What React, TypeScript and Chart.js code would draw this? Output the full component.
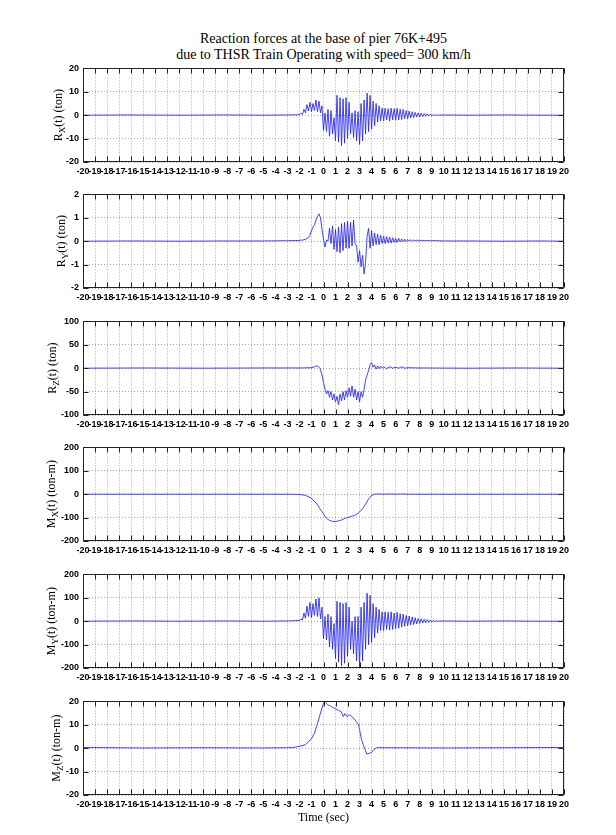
import React, { useEffect, useRef } from "react";
import { Chart, registerables } from "chart.js";
Chart.register(...registerables);

// ---------- DATA ----------
const TITLE_1 = "Reaction forces at the base of pier 76K+495";
const TITLE_2 = "due to THSR Train Operating with speed= 300 km/h";
const X_LABEL = "Time (sec)";

// time samples of the oscillating part (s)
const BURST_T = [
  -2, -1.875, -1.75, -1.625, -1.5, -1.375, -1.25, -1.125,
  -1, -0.875, -0.75, -0.625, -0.5, -0.375, -0.25, -0.125,
  0, 0.125, 0.25, 0.375, 0.5, 0.625, 0.75, 0.875,
  1, 1.125, 1.25, 1.375, 1.5, 1.625, 1.75, 1.875,
  2, 2.125, 2.25, 2.375, 2.5, 2.625, 2.75, 2.875,
  3, 3.125, 3.25, 3.375, 3.5, 3.625, 3.75, 3.875,
  4, 4.125, 4.25, 4.375, 4.5, 4.625, 4.75, 4.875,
  5, 5.125, 5.25, 5.375, 5.5, 5.625, 5.75, 5.875,
  6, 6.125, 6.25, 6.375, 6.5, 6.625, 6.75, 6.875,
  7, 7.125, 7.25, 7.375, 7.5, 7.625, 7.75, 7.875,
  8, 8.125, 8.25, 8.375, 8.5, 8.625, 8.75, 8.875,
  9, 9.125, 9.25, 9.375, 9.5,
];
const PRE_T = [-20, -16, -12, -8, -5, -3];
const POST_T = [10, 12, 15, 18, 20];

const RX_PRE = [0, 0.1, 0, 0.1, 0, 0.1];
const RX_BURST = [
  0.2, 0.8, 0.3, 2.5, 1.0, 4.5, 1.8, 5.5,
  1.5, 5.0, 2.0, 6.5, 1.5, 6.0, 1.0, 4.0,
  -6.5, 1.0, -7.0, 2.5, -9.0, 2.0, -8.0, -1.0,
  -11.0, 8.5, -11.5, 7.5, -13.0, 7.0, -12.0, 7.5,
  -10.0, 5.5, -8.0, 1.0, -9.5, 2.0, -11.0, 1.5,
  -12.5, 5.0, -11.0, 6.5, -8.0, 9.5, -7.0, 8.5,
  -6.0, 6.0, -4.5, 5.0, -3.0, 4.0, -2.5, 3.0,
  -2.5, 3.0, -2.0, 2.8, -2.5, 3.0, -2.0, 2.8,
  -2.2, 3.0, -2.0, 2.5, -1.8, 2.5, -1.5, 2.0,
  -1.5, 1.8, -1.2, 1.5, -1.0, 1.2, -0.8, 1.0,
  -0.8, 0.8, -0.6, 0.7, -0.5, 0.6, -0.4, 0.5,
  -0.3, 0.3, -0.2, 0.2, 0.0,
];
const RX_POST = [0.1, 0, 0.1, 0, 0];

const RY_PRE = [0, 0.01, 0, 0.01, 0.01, 0.02];
const RY_BURST = [
  0.03, 0.05, 0.04, 0.07, 0.08, 0.12, 0.15, 0.25,
  0.45, 0.6, 0.7, 0.9, 1.05, 1.17, 1.0, 0.5,
  0.1, -0.25, 0.05, 0.0, 0.55, -0.1, 0.65, -0.35,
  0.5, -0.45, 0.6, -0.5, 0.75, -0.4, 0.8, -0.3,
  0.85, -0.3, 0.8, -0.2, 0.9, -0.1, -0.2, -0.9,
  -0.4, -1.1, -0.6, -1.4, -0.9, 0.2, 0.55, -0.3,
  0.45, -0.2, 0.35, -0.15, 0.3, -0.15, 0.25, -0.1,
  0.22, -0.1, 0.2, -0.08, 0.18, -0.08, 0.15, -0.05,
  0.12, -0.05, 0.12, -0.03, 0.1, -0.02, 0.08, -0.02,
  0.07, 0.0, 0.06, 0.0, 0.05, 0.01, 0.05, 0.01,
  0.04, 0.02, 0.04, 0.02, 0.03, 0.02, 0.03, 0.02,
  0.03, 0.02, 0.03, 0.02, 0.02,
];
const RY_POST = [0.01, 0.01, 0, 0.01, 0];

const RZ_T = [
  -20, -15, -10, -5, -2, -1, -0.75, -0.6, -0.45, -0.3, -0.15,
  0, 0.125, 0.25, 0.375, 0.5, 0.625, 0.75, 0.875,
  1, 1.125, 1.25, 1.375, 1.5, 1.625, 1.75, 1.875,
  2, 2.125, 2.25, 2.375, 2.5, 2.625, 2.75, 2.875,
  3, 3.125, 3.25, 3.375, 3.5, 3.625, 3.75, 3.875,
  4, 4.125, 4.25, 4.375, 4.5, 4.625, 4.75, 4.875,
  5, 5.25, 5.5, 5.75, 6, 6.25, 6.5, 6.75, 7, 8, 12, 16, 20,
];
const RZ_V = [
  0, 0.5, 0, 0.5, 0.5, 1, 3, 5, 4, 0, -12,
  -30, -45, -55, -48, -62, -50, -68, -55,
  -72, -60, -78, -55, -70, -50, -68, -48,
  -62, -42, -60, -38, -62, -45, -68, -50,
  -72, -50, -62, -45, -25, -15, -5, 8,
  12, 2, 7, -2, 5, -1, 4, 0,
  3, -1, 3, 0, 2, 0, 3, 0, 1, 0.5, 0, 0.5, 0,
];

const MX_T = [
  -20, -10, -3, -2, -1.5, -1, -0.5, -0.25, 0, 0.25, 0.5, 0.75,
  1, 1.25, 1.5, 1.75, 2, 2.25, 2.5, 2.75, 3, 3.25, 3.5, 3.75,
  4, 4.25, 4.5, 5, 5.5, 6, 6.5, 7, 20,
];
const MX_V = [
  0, 0, 0, -1, -5, -17, -45, -66, -85, -103, -112, -116,
  -117, -114, -110, -104, -100, -96, -92, -86, -76, -62, -42, -20,
  -5, 0, 1, 0, 1, 0, 1, 0, 0,
];

const MY_PRE = [0, 1, 0, 1, 0, 1];
const MY_BURST = [
  3, 10, 5, 35, 12, 65, 20, 80,
  15, 75, 25, 95, 20, 100, 10, 60,
  -75, 20, -80, 30, -110, 20, -120, -10,
  -160, 85, -175, 80, -190, 75, -180, 80,
  -150, 60, -120, 0, -140, 20, -170, 20,
  -195, 60, -170, 80, -120, 120, -100, 110,
  -90, 75, -70, 60, -50, 50, -40, 40,
  -40, 40, -35, 38, -38, 40, -35, 35,
  -32, 38, -30, 32, -25, 30, -22, 25,
  -20, 22, -16, 18, -14, 15, -12, 12,
  -10, 10, -8, 8, -7, 7, -5, 5,
  -4, 3, -2, 2, 0,
];
const MY_POST = [1, 0, 1, 0, 0];

const MZ_T = [
  -20, -15, -10, -5, -3, -2.5, -2, -1.5, -1, -0.75, -0.5, -0.25,
  0, 0.15, 0.3, 0.5, 0.75, 1, 1.25, 1.5, 1.65, 1.8, 1.95, 2.1,
  2.3, 2.5, 2.7, 2.9, 3, 3.15, 3.3, 3.45, 3.6, 3.8, 4, 4.2, 4.4,
  5, 10, 15, 20,
];
const MZ_V = [
  0.3, 0.1, 0.2, 0.1, 0.2, 0.3, 0.8, 1.5, 4, 6.5, 10.5, 15,
  19.3, 19.5, 18.8, 18.2, 17.5, 16.8, 16.2, 15.4, 13.5, 14.8, 13.5, 14.2,
  13.8, 12.8, 11.5, 10.3, 8, 4, 1.5, -0.5, -2.5, -2.2, -1.8, -0.5, 0.2,
  0.2, 0.1, 0.2, 0.3,
];

const RX_T = [...PRE_T, ...BURST_T, ...POST_T];
const RX_V = [...RX_PRE, ...RX_BURST, ...RX_POST];
const RY_T = [...PRE_T, ...BURST_T, ...POST_T];
const RY_V = [...RY_PRE, ...RY_BURST, ...RY_POST];
const MY_T = [...PRE_T, ...BURST_T, ...POST_T];
const MY_V = [...MY_PRE, ...MY_BURST, ...MY_POST];

// ---------- LAYOUT ----------
const PAD_TOP = 8;
const PLOT_H = 95;
const XAXIS_H = 22;
const AXIS_LEFT = 83;
const RIGHT_PAD = 52;

type Panel = {
  t: number[]; v: number[]; min: number; max: number; step: number;
  main: string; sub: string; rest: string; top: number; labelX: number;
};

const PANELS: Panel[] = [
  { t: RX_T, v: RX_V, min: -20, max: 20, step: 10, main: "R", sub: "X", rest: "(t) (ton)", top: 67, labelX: 59 },
  { t: RY_T, v: RY_V, min: -2, max: 2, step: 1, main: "R", sub: "Y", rest: "(t) (ton)", top: 193, labelX: 62 },
  { t: RZ_T, v: RZ_V, min: -100, max: 100, step: 50, main: "R", sub: "Z", rest: "(t) (ton)", top: 320, labelX: 53 },
  { t: MX_T, v: MX_V, min: -200, max: 200, step: 100, main: "M", sub: "X", rest: "(t) (ton-m)", top: 446, labelX: 52 },
  { t: MY_T, v: MY_V, min: -200, max: 200, step: 100, main: "M", sub: "Y", rest: "(t) (ton-m)", top: 573, labelX: 52 },
  { t: MZ_T, v: MZ_V, min: -20, max: 20, step: 10, main: "M", sub: "Z", rest: "(t) (ton-m)", top: 700, labelX: 57 },
];

const TICK_FONT = { family: "'Liberation Sans', Arial, sans-serif", size: 9, weight: "bold" as const };
const GRID_COLOR = "rgba(150,150,150,0.85)";

const framePlugin = {
  id: "frame",
  afterDraw(chart: any, _args: any, opts: any) {
    const { ctx, chartArea } = chart;
    const { left, right, top, bottom } = chartArea;
    const xs = chart.scales.x;
    const ys = chart.scales.y;
    ctx.save();
    ctx.strokeStyle = "#222";
    ctx.lineWidth = 1;
    ctx.beginPath();
    const L = Math.round(left) + 0.5, R = Math.round(right) - 0.5;
    const T = Math.round(top) + 0.5, B = Math.round(bottom) - 0.5;
    ctx.rect(L, T, R - L, B - T);
    const tl = 5;
    xs.ticks.forEach((tk: any) => {
      const px = Math.round(xs.getPixelForValue(tk.value)) + 0.5;
      ctx.moveTo(px, T); ctx.lineTo(px, T + tl);
      ctx.moveTo(px, B); ctx.lineTo(px, B - tl);
    });
    ys.ticks.forEach((tk: any) => {
      const py = Math.round(ys.getPixelForValue(tk.value)) + 0.5;
      ctx.moveTo(L, py); ctx.lineTo(L + tl, py);
      ctx.moveTo(R, py); ctx.lineTo(R - tl, py);
    });
    ctx.stroke();

    // y label with subscript
    const cy = (top + bottom) / 2;
    ctx.translate(opts.labelX, cy);
    ctx.rotate(-Math.PI / 2);
    ctx.fillStyle = "#000";
    ctx.textBaseline = "middle";
    ctx.textAlign = "left";
    const big = "12px 'Liberation Serif', 'Times New Roman', serif";
    const small = "9px 'Liberation Serif', 'Times New Roman', serif";
    ctx.font = big;
    const w1 = ctx.measureText(opts.main).width;
    const w3 = ctx.measureText(opts.rest).width;
    ctx.font = small;
    const w2 = ctx.measureText(opts.sub).width;
    let x = -(w1 + w2 + w3) / 2;
    ctx.font = big;
    ctx.fillText(opts.main, x, 0);
    x += w1;
    ctx.font = small;
    ctx.fillText(opts.sub, x, 3.5);
    x += w2;
    ctx.font = big;
    ctx.fillText(opts.rest, x, 0);
    ctx.restore();
  },
};

function PanelChart({ p }: { p: Panel }) {
  const ref = useRef<HTMLCanvasElement>(null);
  useEffect(() => {
    if (!ref.current) return;
    const chart = new Chart(ref.current, {
      type: "line",
      data: {
        datasets: [
          {
            data: p.t.map((x, i) => ({ x, y: p.v[i] })),
            borderColor: "rgb(35,35,235)",
            borderWidth: 0.85,
            pointRadius: 0,
            tension: 0,
            fill: false,
          },
        ],
      },
      options: {
        animation: false,
        responsive: false,
        maintainAspectRatio: false,
        devicePixelRatio: 1,
        layout: { padding: { top: PAD_TOP, right: RIGHT_PAD, left: 0, bottom: 0 } },
        plugins: {
          legend: { display: false },
          tooltip: { enabled: false },
          frame: { main: p.main, sub: p.sub, rest: p.rest, labelX: p.labelX },
        } as any,
        scales: {
          x: {
            type: "linear",
            min: -20,
            max: 20,
            afterFit: (s: any) => { s.height = XAXIS_H; },
            ticks: {
              stepSize: 1,
              autoSkip: false,
              maxRotation: 0,
              minRotation: 0,
              maxTicksLimit: 100,
              padding: 4,
              color: "#000",
              font: TICK_FONT,
            },
            grid: { color: GRID_COLOR, drawTicks: false, lineWidth: 1 },
            border: { display: false, dash: [1, 2] },
          },
          y: {
            type: "linear",
            min: p.min,
            max: p.max,
            afterFit: (s: any) => { s.width = AXIS_LEFT; },
            ticks: {
              stepSize: p.step,
              padding: 4,
              color: "#000",
              font: TICK_FONT,
            },
            grid: { color: GRID_COLOR, drawTicks: false, lineWidth: 1 },
            border: { display: false, dash: [1, 2] },
          },
        },
      },
      plugins: [framePlugin],
    } as any);
    return () => chart.destroy();
  }, [p]);
  const h = PAD_TOP + PLOT_H + XAXIS_H;
  return (
    <canvas
      ref={ref}
      width={616}
      height={h}
      style={{ position: "absolute", left: 0, top: p.top - PAD_TOP, width: 616, height: h }}
    />
  );
}

export default function App() {
  const serif = "'Liberation Serif', 'Times New Roman', serif";
  return (
    <div style={{ position: "absolute", left: 0, top: 0, width: 616, height: 835, background: "#fff", overflow: "hidden" }}>
      <div
        style={{
          position: "absolute", left: 0, top: 31, width: 647, textAlign: "center",
          fontFamily: serif, fontSize: 14, lineHeight: "16px", color: "#000",
        }}
      >
        <div>{TITLE_1}</div>
        <div>{TITLE_2}</div>
      </div>
      {PANELS.map((p, i) => (
        <PanelChart key={i} p={p} />
      ))}
      <div
        style={{
          position: "absolute", left: 0, top: 810, width: 647, textAlign: "center",
          fontFamily: serif, fontSize: 12, lineHeight: "14px", color: "#000",
        }}
      >
        {X_LABEL}
      </div>
    </div>
  );
}
